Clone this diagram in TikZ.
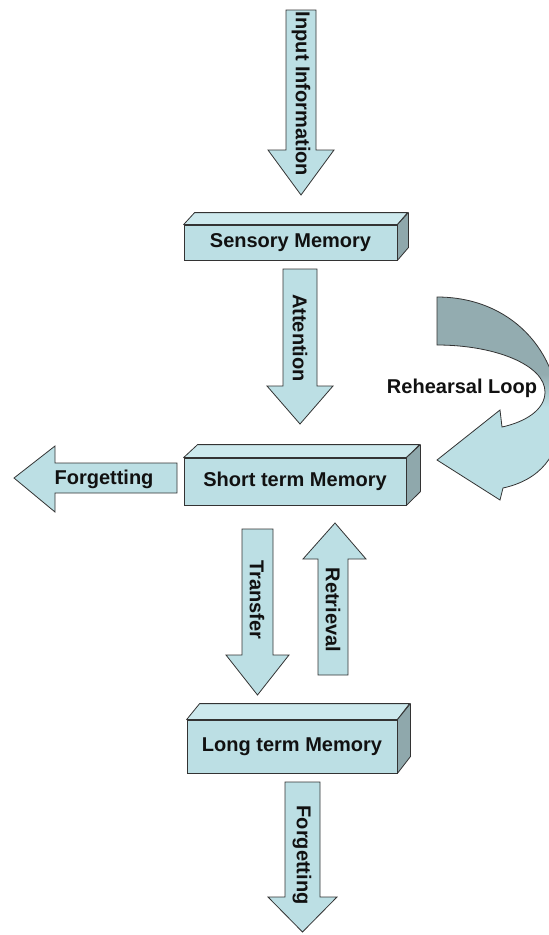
\documentclass[tikz,border=0pt]{standalone}
\usepackage{fontspec}
\setmainfont{Liberation Sans}
\definecolor{boxfront}{HTML}{BCDFE4}
\definecolor{boxtop}{HTML}{CDE9ED}
\definecolor{boxside}{HTML}{8FA8AC}
\definecolor{edgec}{HTML}{333333}
\definecolor{txt}{HTML}{111111}
\definecolor{loopdark}{HTML}{93ACB0}
\pgfdeclareverticalshading{rehearse}{100bp}{color(0bp)=(boxfront); color(48bp)=(boxfront); color(56bp)=(loopdark); color(100bp)=(loopdark)}
\newcommand{\memorybox}[8]{%
  \node[front, minimum width=#4pt, minimum height=#5pt] (#1) at (#2,#3) {#8};
  \draw[topf] (#1.north west) -- ++(#6,-#7) -- ++(#4,0) -- (#1.north east) -- cycle;
  \draw[sidef] (#1.north east) -- ++(#6,-#7) -- ++(0,#5) -- (#1.south east) -- cycle;
}
\begin{document}
\begin{tikzpicture}[x=1pt,y=-1pt,
  lbl/.style={font=\fontsize{20}{23}\selectfont\bfseries, text=txt, inner sep=0pt},
  front/.style={draw=edgec, fill=boxfront, line width=0.8pt, inner sep=0pt, lbl},
  blk/.style={draw=edgec, fill=boxfront, line width=0.8pt, line join=miter},
  topf/.style={draw=edgec, fill=boxtop, line width=0.8pt, line join=round},
  sidef/.style={draw=edgec, fill=boxside, line width=0.8pt, line join=round}]
\useasboundingbox (0,0) rectangle (549,935);

% Input Information
\draw[blk] (286,10) -- (316,10) -- (316,150) -- (334,150) -- (301,195) -- (268,150) -- (286,150) -- cycle;
\node[lbl, rotate=-90] (inputlbl) at (301,94) {Input Information};

% Sensory Memory
\memorybox{sensory}{290.5}{242.5}{213}{35}{11}{12}{Sensory Memory}

% Attention
\draw[blk] (283,269) -- (317,269) -- (317,386) -- (333,386) -- (300,424) -- (267,386) -- (283,386) -- cycle;
\node[lbl, rotate=-90] (attlbl) at (300,338) {Attention};

% Rehearsal loop
\begin{scope}
\clip (0,0) rectangle (549,935);
\path[draw=edgec, line width=0.8pt, shading=rehearse]
  (437,297) -- (437,345)
  .. controls (495,345) and (545,365) .. (545,392)
  .. controls (545,410) and (525,422) .. (502,427)
  -- (500,410) -- (437,460) -- (500,500) -- (503,488)
  .. controls (540,480) and (560,455) .. (560,420)
  .. controls (560,350) and (510,297) .. (437,297) -- cycle;
\end{scope}
\node[lbl] (rehlbl) at (462,388) {Rehearsal Loop};

% Short term Memory
\memorybox{short}{295}{481.5}{222}{47}{14}{13}{Short term Memory}

% Forgetting (left)
\draw[blk] (177,463) -- (177,493) -- (55,493) -- (55,512) -- (14,478) -- (55,446) -- (55,463) -- cycle;
\node[lbl] (forg1) at (104,479) {Forgetting};

% Transfer
\draw[blk] (242,529) -- (273,529) -- (273,655) -- (289,655) -- (257.5,695) -- (226,655) -- (242,655) -- cycle;
\node[lbl, rotate=-90] (translbl) at (257,600) {Transfer};

% Retrieval
\draw[blk] (318,675) -- (348,675) -- (348,559) -- (366,559) -- (335,523) -- (303,559) -- (318,559) -- cycle;
\node[lbl, rotate=-90] (retrlbl) at (333,610) {Retrieval};

% Long term Memory
\memorybox{long}{292}{746.5}{210}{53}{13}{16}{Long term Memory}

% Forgetting (down)
\draw[blk] (285,782) -- (320,782) -- (320,897) -- (337,897) -- (302.5,932) -- (268,897) -- (285,897) -- cycle;
\node[lbl, rotate=-90] (forg2) at (302,855) {Forgetting};
\end{tikzpicture}
\end{document}
